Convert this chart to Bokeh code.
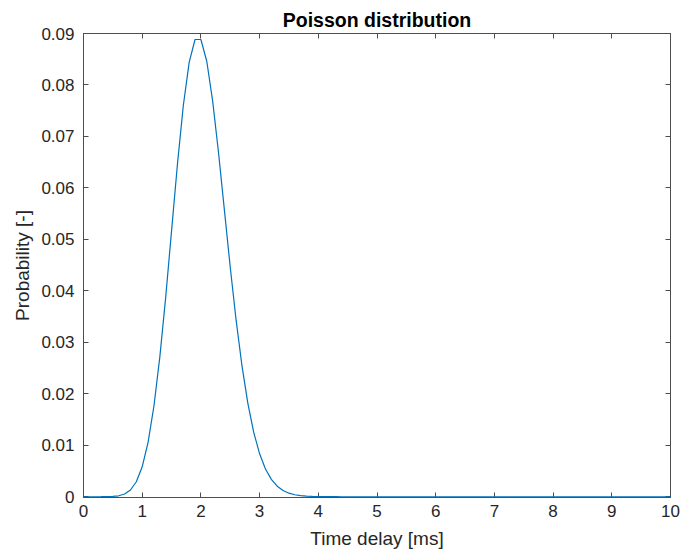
from bokeh.plotting import figure
from bokeh.models import LinearAxis, FixedTicker, CustomJSTickFormatter, Range1d
from bokeh.embed import file_html
from bokeh.resources import INLINE

# time delay [ms]
time_ms = [0.0, 0.1, 0.2, 0.3, 0.4, 0.5, 0.6, 0.7, 0.8, 0.9,
           1.0, 1.1, 1.2, 1.3, 1.4, 1.5, 1.6, 1.7, 1.8, 1.9,
           2.0, 2.1, 2.2, 2.3, 2.4, 2.5, 2.6, 2.7, 2.8, 2.9,
           3.0, 3.1, 3.2, 3.3, 3.4, 3.5, 3.6, 3.7, 3.8, 3.9,
           4.0, 4.1, 4.2, 4.3, 4.4, 4.5, 4.6, 4.7, 4.8, 4.9,
           5.0, 5.1, 5.2, 5.3, 5.4, 5.5, 5.6, 5.7, 5.8, 5.9,
           6.0, 6.1, 6.2, 6.3, 6.4, 6.5, 6.6, 6.7, 6.8, 6.9,
           7.0, 7.1, 7.2, 7.3, 7.4, 7.5, 7.6, 7.7, 7.8, 7.9,
           8.0, 8.1, 8.2, 8.3, 8.4, 8.5, 8.6, 8.7, 8.8, 8.9,
           9.0, 9.1, 9.2, 9.3, 9.4, 9.5, 9.6, 9.7, 9.8, 9.9, 10.0]

# probability [-]
probability = [0.0, 0.0, 0.0000004, 0.0000027, 0.0000137, 0.0000550, 0.0001832, 0.0005235, 0.0013087, 0.0029082,
               0.0058163, 0.0105751, 0.0176252, 0.0271157, 0.0387367, 0.0516489, 0.0645611, 0.0759542, 0.0843935, 0.0888353,
               0.0888353, 0.0846051, 0.0769137, 0.0668815, 0.0557346, 0.0445876, 0.0342982, 0.0254061, 0.0181472, 0.0125153,
               0.0083435, 0.0053829, 0.0033643, 0.0020390, 0.0011994, 0.0006854, 0.0003808, 0.0002058, 0.0001083, 0.0000555,
               0.0000278, 0.0000136, 0.0000065, 0.0000030, 0.0, 0.0, 0.0, 0.0, 0.0, 0.0,
               0.0, 0.0, 0.0, 0.0, 0.0, 0.0, 0.0, 0.0, 0.0, 0.0,
               0.0, 0.0, 0.0, 0.0, 0.0, 0.0, 0.0, 0.0, 0.0, 0.0,
               0.0, 0.0, 0.0, 0.0, 0.0, 0.0, 0.0, 0.0, 0.0, 0.0,
               0.0, 0.0, 0.0, 0.0, 0.0, 0.0, 0.0, 0.0, 0.0, 0.0,
               0.0, 0.0, 0.0, 0.0, 0.0, 0.0, 0.0, 0.0, 0.0, 0.0, 0.0]

x_ticks = [0, 1, 2, 3, 4, 5, 6, 7, 8, 9, 10]
y_ticks = [0, 0.01, 0.02, 0.03, 0.04, 0.05, 0.06, 0.07, 0.08, 0.09]

FONT = "Liberation Sans"
AX_COL = "#4d4d4d"
TXT_COL = "#262626"

p = figure(width=681, height=556, output_backend="svg", toolbar_location=None,
           x_range=Range1d(0, 10), y_range=Range1d(-0.00015, 0.09),
           min_border_left=83, min_border_right=11, min_border_top=33, min_border_bottom=59,
           title="Poisson distribution")
p.frame_width = 587
p.frame_height = 464
p.background_fill_color = "white"
p.border_fill_color = "white"
p.xgrid.visible = False
p.ygrid.visible = False
p.outline_line_color = AX_COL
p.outline_line_width = 1

p.title.text_font = FONT
p.title.text_font_size = "19.5px"
p.title.text_font_style = "bold"
p.title.text_color = "black"
p.title.align = "center"
p.title.offset = 0
p.title.standoff = 5

r = p.line(time_ms, probability, line_color="#0072BD", line_width=1.2)
r.level = "overlay"

fmt = CustomJSTickFormatter(code="return parseFloat(tick.toFixed(2)).toString();")

def style_axis(ax, show_labels):
    ax.axis_line_color = AX_COL
    ax.major_tick_line_color = AX_COL
    ax.major_tick_in = 5
    ax.major_tick_out = 0
    ax.minor_tick_line_color = None
    ax.major_label_text_font = FONT
    ax.major_label_text_color = TXT_COL
    if show_labels:
        ax.major_label_text_font_size = "17px"
    else:
        ax.major_label_text_font_size = "1px"
        ax.major_label_text_color = None
        ax.major_label_standoff = 0

xa = p.xaxis[0]
xa.ticker = FixedTicker(ticks=x_ticks)
style_axis(xa, True)
xa.major_label_standoff = 7
xa.axis_label = "Time delay [ms]"
xa.axis_label_text_font = FONT
xa.axis_label_text_font_size = "19px"
xa.axis_label_text_font_style = "normal"
xa.axis_label_text_color = TXT_COL
xa.axis_label_standoff = 8

ya = p.yaxis[0]
ya.ticker = FixedTicker(ticks=y_ticks)
ya.formatter = fmt
style_axis(ya, True)
ya.major_label_standoff = 9
ya.axis_label = "Probability [-]"
ya.axis_label_text_font = FONT
ya.axis_label_text_font_size = "19px"
ya.axis_label_text_font_style = "normal"
ya.axis_label_text_color = TXT_COL
ya.axis_label_standoff = 5

top = LinearAxis(ticker=FixedTicker(ticks=x_ticks))
style_axis(top, False)
p.add_layout(top, "above")

right = LinearAxis(ticker=FixedTicker(ticks=y_ticks))
style_axis(right, False)
p.add_layout(right, "right")

open("out.html", "w").write(file_html(p, INLINE))
